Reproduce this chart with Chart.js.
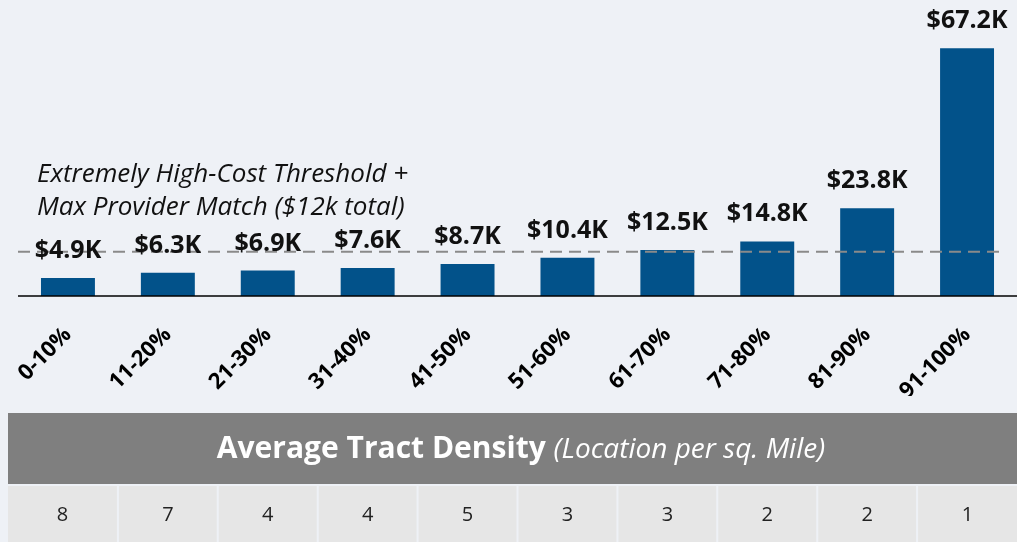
<!DOCTYPE html>
<html>
<head>
<meta charset="utf-8">
<script src="https://cdn.jsdelivr.net/npm/chart.js@4"></script>
<style>
  html, body { margin: 0; padding: 0; background: #eef1f6; }
  #wrap { width: 1017px; height: 542px; position: relative; }
</style>
</head>
<body>
<div id="wrap"><canvas id="chart" width="1017" height="542"></canvas></div>
<script>
const categories = ["0-10%", "11-20%", "21-30%", "31-40%", "41-50%", "51-60%", "61-70%", "71-80%", "81-90%", "91-100%"];
const costK = [4.9, 6.3, 6.9, 7.6, 8.7, 10.4, 12.5, 14.8, 23.8, 67.2];
const density = [8, 7, 4, 4, 5, 3, 3, 2, 2, 1];
const thresholdK = 12;
const thresholdText = ["Extremely High-Cost Threshold +", "Max Provider Match ($12k total)"];
const tableTitle = "Average Tract Density";
const tableSubtitle = "(Location per sq. Mile)";

const FONT = "'Open Sans', sans-serif";

// bar value labels, threshold line and its note
const overlay = {
  id: "overlay",
  afterDatasetsDraw(chart) {
    const ctx = chart.ctx;
    const y = chart.scales.y;
    const area = chart.chartArea;
    const ty = y.getPixelForValue(thresholdK);

    ctx.save();
    ctx.strokeStyle = "#8a8a8a";
    ctx.lineWidth = 2.2;
    ctx.setLineDash([12, 7]);
    ctx.beginPath();
    ctx.moveTo(area.left, ty);
    ctx.lineTo(1002, ty);
    ctx.stroke();
    ctx.setLineDash([]);

    // axis line
    ctx.strokeStyle = "#000";
    ctx.lineWidth = 1.5;
    ctx.beginPath();
    ctx.moveTo(area.left, area.bottom);
    ctx.lineTo(1017, area.bottom);
    ctx.stroke();

    ctx.fillStyle = "#111";
    ctx.font = "italic 26px " + FONT;
    ctx.textAlign = "left";
    ctx.textBaseline = "alphabetic";
    ctx.fillText(thresholdText[0], 37, 182);
    ctx.fillText(thresholdText[1], 37, 215);

    ctx.font = "bold 25px " + FONT;
    ctx.textAlign = "center";
    chart.getDatasetMeta(0).data.forEach((bar, i) => {
      ctx.fillText("$" + costK[i].toFixed(1) + "K", bar.x, bar.y - 20);
    });
    ctx.restore();
  },
  afterDraw(chart) {
    const ctx = chart.ctx;
    const left = 8, right = 1017;
    ctx.save();
    ctx.fillStyle = "#7f7f7f";
    ctx.fillRect(left, 413, right - left, 71);

    ctx.fillStyle = "#fff";
    ctx.textBaseline = "alphabetic";
    ctx.font = "bold 30px " + FONT;
    const w1 = ctx.measureText(tableTitle + " ").width;
    ctx.font = "italic 28px " + FONT;
    const w2 = ctx.measureText(tableSubtitle).width;
    let x = 521 - (w1 + w2) / 2;
    ctx.font = "bold 30px " + FONT;
    ctx.textAlign = "left";
    ctx.fillText(tableTitle + " ", x, 458);
    ctx.font = "italic 28px " + FONT;
    ctx.fillText(tableSubtitle, x + w1, 458);

    const xs = chart.scales.x;
    const step = (chart.chartArea.right - chart.chartArea.left) / categories.length;
    density.forEach((d, i) => {
      const cx = xs.getPixelForValue(i);
      const l = i === 0 ? left : cx - step / 2 + 1;
      const r = i === density.length - 1 ? right : cx + step / 2 - 1;
      ctx.fillStyle = "#e6e6e6";
      ctx.fillRect(l, 486, r - l, 56);
      ctx.fillStyle = "#222";
      ctx.font = "20px " + FONT;
      ctx.textAlign = "center";
      ctx.textBaseline = "middle";
      ctx.fillText(String(d), (l + r) / 2, 515);
    });
    ctx.restore();
  }
};

new Chart(document.getElementById("chart"), {
  type: "bar",
  data: {
    labels: categories,
    datasets: [{
      data: costK,
      backgroundColor: "#02528a",
      borderWidth: 0,
      barPercentage: 0.54,
      categoryPercentage: 1
    }]
  },
  options: {
    responsive: false,
    animation: false,
    layout: { padding: { left: 18, right: 0, top: 1, bottom: 146 } },
    plugins: { legend: { display: false }, tooltip: { enabled: false } },
    scales: {
      x: {
        grid: { display: false, drawTicks: false },
        border: { display: false },
        ticks: {
          color: "#000",
          font: { family: FONT, size: 22, weight: "bold" },
          minRotation: 45,
          maxRotation: 45,
          padding: 26
        },
        afterFit(scale) {
          scale.height = 100;
          scale.paddingLeft = 0;
          scale.paddingRight = 0;
        }
      },
      y: {
        display: false,
        min: 0,
        max: 80
      }
    }
  },
  plugins: [overlay]
});
</script>
</body>
</html>
